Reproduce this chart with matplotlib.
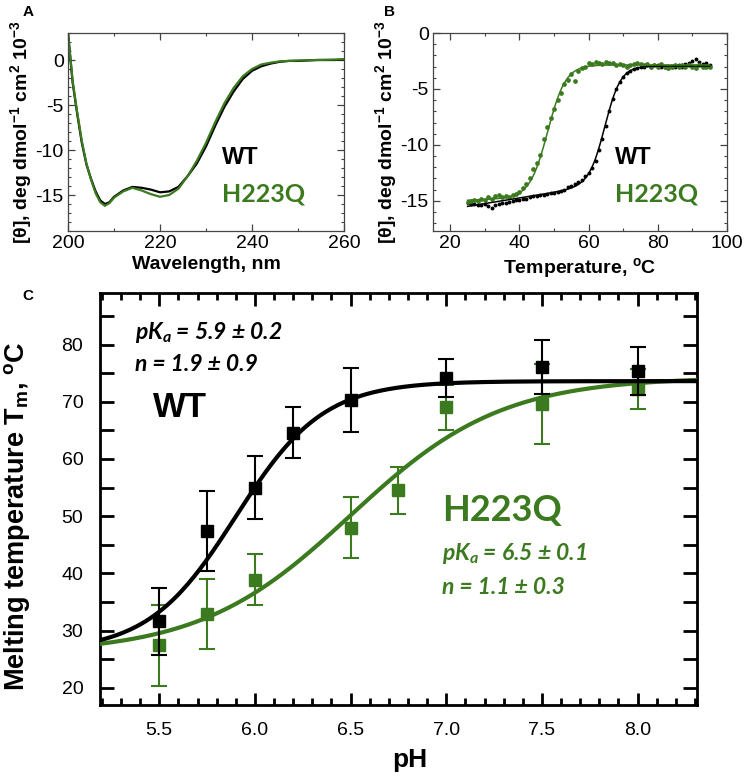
import numpy as np
import matplotlib
matplotlib.use("Agg")
import matplotlib.pyplot as plt
from matplotlib.ticker import MultipleLocator, FormatStrFormatter

plt.rcParams['font.family'] = ['Liberation Sans', 'DejaVu Sans']
plt.rcParams['axes.unicode_minus'] = False
plt.rcParams['mathtext.fontset'] = 'custom'
plt.rcParams['mathtext.rm'] = 'Liberation Sans:bold'
plt.rcParams['mathtext.bf'] = 'Liberation Sans:bold'
plt.rcParams['mathtext.it'] = 'Lato:bold:italic'

GREEN = '#3b7a1e'

# ---- panel A: CD spectra ----
wavelength = [200, 201, 202, 203, 204, 205, 206, 207, 208, 209, 210, 212, 214, 216, 218,
              220, 222, 224, 226, 228, 230, 232, 234, 236, 238, 240, 242, 244, 246, 248,
              250, 254, 258, 260]
cd_wt = [3.0, -2.5, -6.0, -9.2, -11.6, -13.2, -14.6, -15.6, -16.0, -15.8, -15.2, -14.5, -14.1,
         -14.2, -14.4, -14.7, -14.6, -14.1, -12.9, -11.5, -9.6, -7.3, -5.2, -3.5, -2.1, -1.2,
         -0.7, -0.4, -0.2, -0.1, -0.1, 0.0, 0.0, 0.05]
cd_h223q = [3.0, -2.3, -5.8, -9.0, -11.5, -13.3, -14.8, -15.8, -16.2, -15.9, -15.3, -14.6,
            -14.2, -14.5, -14.9, -15.2, -15.0, -14.3, -12.9, -11.2, -9.2, -6.9, -4.8, -3.1,
            -1.8, -1.0, -0.5, -0.3, -0.15, -0.1, -0.05, 0.0, 0.05, 0.1]

# ---- panel B: thermal melts ----
temperature = list(range(25, 96))
melt_wt = [-15.2, -15.3, -15.3, -15.4, -15.4, -15.3, -15.5, -15.6, -15.4, -15.3, -15.2, -15.2,
           -15.1, -15.0, -14.9, -14.9, -14.8, -14.8, -14.7, -14.6, -14.6, -14.5, -14.5, -14.4,
           -14.3, -14.3, -14.2, -14.1, -14.0, -13.8, -13.7, -13.5, -13.3, -13.1, -12.8, -12.5,
           -12.1, -11.4, -10.5, -9.5, -8.3, -7.0, -5.9, -5.0, -4.4, -3.9, -3.6, -3.4, -3.2,
           -3.1, -3.0, -3.0, -2.9, -3.0, -2.9, -2.9, -3.0, -3.0, -3.1, -3.0, -3.0, -2.9, -3.0,
           -2.8, -2.7, -2.5, -2.3, -2.6, -2.8, -2.7, -2.9]
melt_h223q = [-15.1, -15.0, -14.9, -15.0, -14.8, -14.9, -14.7, -14.8, -14.6, -14.5, -14.7,
              -14.6, -14.7, -14.5, -14.4, -14.2, -13.9, -13.5, -13.0, -12.2, -11.6, -10.9,
              -9.5, -8.4, -7.6, -6.8, -6.0, -5.4, -4.6, -4.2, -3.7, -4.3, -3.4, -3.1, -3.0,
              -2.7, -2.8, -2.6, -2.7, -2.8, -2.6, -2.7, -2.7, -2.9, -2.8, -2.9, -3.0, -2.9,
              -2.8, -2.7, -2.8, -2.9, -2.8, -3.0, -2.9, -3.0, -2.8, -3.0, -3.1, -3.0, -2.9,
              -3.0, -2.9, -3.0, -2.9, -3.0, -3.1, -2.9, -3.0, -3.0, -3.0]
# two-state fit parameters: (low baseline at 25C, baseline slope, high baseline, Tm, width)
fit_b_wt = (-15.5, 0.05, -2.95, 64.8, 2.3)
fit_b_h223q = (-14.95, 0.012, -2.85, 48.2, 2.6)

# ---- panel C: Tm vs pH ----
ph_wt = [5.5, 5.75, 6.0, 6.2, 6.5, 7.0, 7.5, 8.0]
tm_wt = [31.6, 47.4, 55.0, 64.6, 70.3, 74.1, 76.1, 75.3]
err_wt = [5.9, 7.0, 5.5, 4.5, 5.6, 3.3, 4.7, 4.2]
ph_h223q = [5.5, 5.75, 6.0, 6.5, 6.75, 7.0, 7.5, 8.0]
tm_h223q = [27.4, 32.9, 38.9, 48.0, 54.5, 69.0, 69.6, 72.2]
err_h223q = [7.0, 6.2, 4.4, 5.3, 4.1, 4.0, 7.0, 3.5]
# Hill-type fit: (low Tm, high Tm, pKa, n)
fit_c_wt = (26.3, 73.6, 5.9, 1.9)
fit_c_h223q = (26.0, 74.3, 6.5, 1.1)


def two_state(t, lo, slope, hi, tm, w):
    base = lo + slope * (t - 25)
    return base + (hi - base) / (1 + np.exp((tm - t) / w))


def hill(ph, lo, hi, pka, n):
    return lo + (hi - lo) / (1 + 10 ** (n * (pka - ph)))


fig = plt.figure(figsize=(7.45, 7.77), dpi=100)
ax_a = fig.add_axes([0.0913, 0.7027, 0.3705, 0.2548])
ax_b = fig.add_axes([0.5812, 0.7027, 0.3946, 0.2548])
ax_c = fig.add_axes([0.1342, 0.0927, 0.8013, 0.5302])

ylab_cd = r'[θ], deg dmol$^{-1}$ cm$^{2}$ 10$^{-3}$'

# panel A
ax_a.plot(wavelength, cd_wt, color='black', lw=1.6)
ax_a.plot(wavelength, cd_h223q, color=GREEN, lw=1.6)
ax_a.set_xlim(200, 260)
ax_a.set_ylim(-19, 3)
ax_a.xaxis.set_major_locator(MultipleLocator(20))
ax_a.xaxis.set_minor_locator(MultipleLocator(10))
ax_a.yaxis.set_major_locator(MultipleLocator(5))
ax_a.yaxis.set_minor_locator(MultipleLocator(1))
ax_a.set_xlabel('Wavelength, nm', fontsize=14, fontweight='bold', labelpad=3)
ax_a.set_ylabel(ylab_cd, fontsize=14, fontweight='bold', labelpad=1)
ax_a.text(0.558, 0.369, 'WT', transform=ax_a.transAxes, fontsize=17, fontweight='bold',
          va='center', ha='left')
ax_a.text(0.558, 0.187, 'H223Q', transform=ax_a.transAxes, fontsize=18, fontweight='bold',
          family='Lato', color=GREEN, va='center', ha='left')

# panel B
ax_b.plot(temperature, melt_wt, 'o', color='black', ms=2.8, mec='none')
ax_b.plot(temperature, melt_h223q, 'o', color=GREEN, ms=3.4, mec='none')
t_fine = np.linspace(25, 95, 300)
ax_b.plot(t_fine, two_state(t_fine, *fit_b_wt), color='black', lw=1.1)
ax_b.plot(t_fine, two_state(t_fine, *fit_b_h223q), color=GREEN, lw=1.1)
ax_b.set_xlim(15, 100)
ax_b.set_ylim(-17.7, 0)
ax_b.xaxis.set_major_locator(MultipleLocator(20))
ax_b.xaxis.set_minor_locator(MultipleLocator(10))
ax_b.yaxis.set_major_locator(MultipleLocator(5))
ax_b.yaxis.set_minor_locator(MultipleLocator(1))
ax_b.set_xlabel('Temperature, $^{\\mathrm{o}}$C', fontsize=14, fontweight='bold', labelpad=3)
ax_b.set_ylabel(ylab_cd, fontsize=14, fontweight='bold', labelpad=1)
ax_b.text(0.619, 0.369, 'WT', transform=ax_b.transAxes, fontsize=17, fontweight='bold',
          va='center', ha='left')
ax_b.text(0.619, 0.187, 'H223Q', transform=ax_b.transAxes, fontsize=18, fontweight='bold',
          family='Lato', color=GREEN, va='center', ha='left')

for ax in (ax_a, ax_b):
    for s in ax.spines.values():
        s.set_linewidth(0.9)
        s.set_color('#444444')
    ax.tick_params(which='both', direction='in', top=True, right=True, labelsize=14,
                   color='#444444', pad=3)
    ax.tick_params(which='major', length=5, width=0.9)
    ax.tick_params(which='minor', length=2.5, width=0.8)

# panel C
ax_c.errorbar(ph_h223q, tm_h223q, yerr=err_h223q, fmt='s', color=GREEN, ms=8,
              elinewidth=1.5, capsize=5.5, capthick=1.5, zorder=2)
ph_fine = np.linspace(5.19, 8.31, 300)
ax_c.plot(ph_fine, hill(ph_fine, *fit_c_h223q), color=GREEN, lw=3, zorder=3)
ax_c.errorbar(ph_wt, tm_wt, yerr=err_wt, fmt='s', color='black', ms=8,
              elinewidth=1.5, capsize=5.5, capthick=1.5, zorder=4)
ax_c.plot(ph_fine, hill(ph_fine, *fit_c_wt), color='black', lw=3, zorder=5)
ax_c.set_xlim(5.19, 8.31)
ax_c.set_ylim(17, 89)
ax_c.xaxis.set_major_locator(MultipleLocator(0.5))
ax_c.xaxis.set_minor_locator(MultipleLocator(0.1))
ax_c.yaxis.set_major_locator(MultipleLocator(10))
ax_c.yaxis.set_minor_locator(MultipleLocator(5))
ax_c.xaxis.set_major_formatter(FormatStrFormatter('%.1f'))
for s in ax_c.spines.values():
    s.set_linewidth(2)
ax_c.tick_params(which='both', direction='in', top=True, right=True, labelsize=14, width=2)
ax_c.tick_params(axis='y', which='both', length=10, pad=12)
ax_c.tick_params(axis='x', which='major', length=9, pad=12)
ax_c.tick_params(axis='x', which='minor', length=5)
ax_c.set_xlabel('pH', fontsize=19, fontweight='bold')
ax_c.xaxis.set_label_coords(0.519, -0.105)
ax_c.set_ylabel('Melting temperature T$_{\\mathrm{m}}$, $^{\\mathrm{o}}$C', fontsize=19.5,
                fontweight='bold')
ax_c.yaxis.set_label_coords(-0.112, 0.459)

stat_kw = dict(transform=ax_c.transAxes, fontsize=16.5, family='Lato', fontweight='bold',
               fontstyle='italic', va='center', ha='left')
ax_c.text(0.058, 0.905, '$pK_a$ = 5.9 ± 0.2', **stat_kw)
ax_c.text(0.058, 0.827, 'n = 1.9 ± 0.9', **stat_kw)
ax_c.text(0.089, 0.721, 'WT', transform=ax_c.transAxes, fontsize=25, fontweight='bold',
          va='center', ha='left')
ax_c.text(0.573, 0.473, 'H223Q', transform=ax_c.transAxes, fontsize=26, fontweight='bold',
          family='Lato', color=GREEN, va='center', ha='left')
ax_c.text(0.573, 0.367, '$pK_a$ = 6.5 ± 0.1', color=GREEN, **stat_kw)
ax_c.text(0.573, 0.286, 'n = 1.1 ± 0.3', color=GREEN, **stat_kw)

fig.text(28 / 745, 1 - 12 / 777, 'A', fontsize=11, fontweight='bold', va='center', ha='center')
fig.text(389 / 745, 1 - 12 / 777, 'B', fontsize=11, fontweight='bold', va='center', ha='center')
fig.text(28 / 745, 1 - 296 / 777, 'C', fontsize=11, fontweight='bold', va='center', ha='center')

fig.savefig('out.png', dpi=100)
